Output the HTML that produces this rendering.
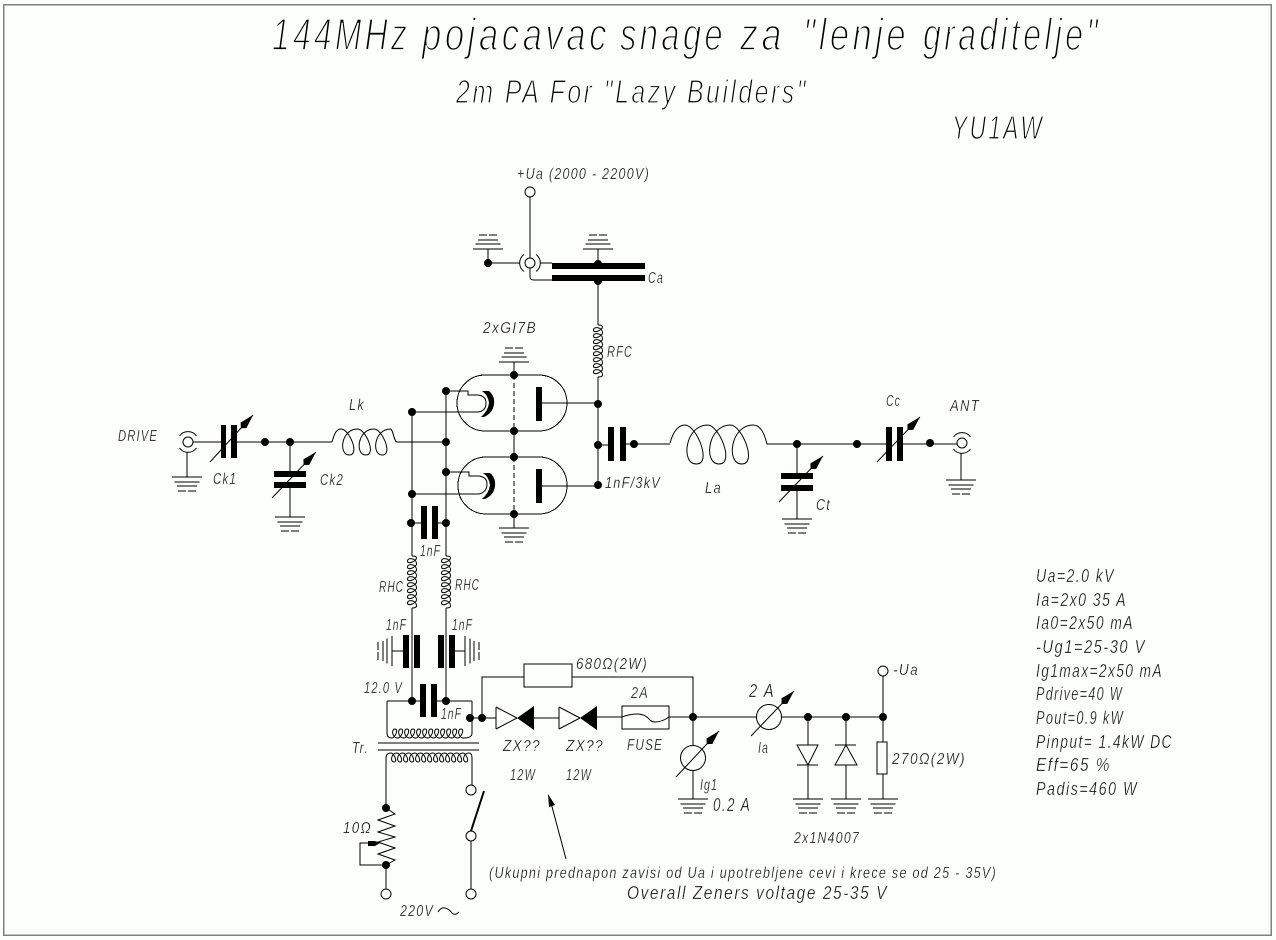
<!DOCTYPE html>
<html><head><meta charset="utf-8"><title>2m PA For Lazy Builders</title>
<style>
html,body{margin:0;padding:0;background:#fdfffd;width:1276px;height:940px;overflow:hidden}
svg{display:block;shape-rendering:crispEdges}
circle,path{shape-rendering:auto}
text{font-family:"Liberation Sans",sans-serif;font-style:italic;fill:#111;font-size:16px;letter-spacing:.1em}
.b{font-size:45px;stroke:#fdfffd;stroke-width:1.7px;paint-order:fill stroke;fill:#000}
.m{font-size:33px;stroke:#fdfffd;stroke-width:1.2px;paint-order:fill stroke;fill:#000}
.r{font-size:18px;stroke:#fdfffd;stroke-width:.3px;paint-order:fill stroke}
.s{font-size:16px;stroke:#fdfffd;stroke-width:.25px;paint-order:fill stroke}
</style></head><body>
<svg width="1276" height="940" viewBox="0 0 1276 940" xmlns="http://www.w3.org/2000/svg">
<defs>
<g id="gnd" fill="none" stroke="#000" stroke-width="1"><path d="M-15 0H15M-12.500 5H12.500M-10 9H10M-9 14H-1M1 14H9"/></g>
<g id="coil" fill="none" stroke="#000" stroke-width="1"><path d="M0 0Q0 -4.500 2 -4.500c3 0 7 9 3 9c-4 0 -3 -9 3 -9c3 0 7 9 3 9c-4 0 -3 -9 3 -9c3 0 7 9 3 9c-4 0 -3 -9 3 -9c3 0 7 9 3 9c-4 0 -3 -9 3 -9c3 0 7 9 3 9c-4 0 -3 -9 3 -9c3 0 7 9 3 9c-4 0 -3 -9 3 -9c3 0 7 9 3 9c-4 0 -3 -9 3 -9c3 0 7 9 3 9c-4 0 -3 -9 3 -9Q52 -4.500 52 0"/></g>
<marker id="ah" markerUnits="userSpaceOnUse" markerWidth="20" markerHeight="10" refX="18" refY="4" orient="auto"><path d="M0 4L4 0L18 4L4 8Z" fill="#000"/></marker>
</defs>

<rect x="3.500" y="4.500" width="1267.500" height="930.500" fill="none" stroke="#808080" stroke-width="1.500"/>

<!-- wiring -->
<g fill="none" stroke="#000" stroke-width="1" style="shape-rendering:crispEdges">
<!-- +Ua and Ca -->
<circle cx="530" cy="192" r="5"/>
<path d="M530 197V258"/>
<circle cx="530" cy="263" r="5"/>
<path d="M524 254.500A10.500 10.500 0 0 0 524 271.500M536 254.500A10.500 10.500 0 0 1 536 271.500"/>
<path d="M488 263H519.500M488 263V249M540.500 263H552M530 268V277Q530 280 534 280H552M598 264V249M598 281V325"/>
<!-- tubes -->
<rect x="457" y="375" width="110" height="56" rx="28" ry="28"/>
<rect x="458" y="457" width="109" height="57" rx="28" ry="28"/>
<path d="M514 431V457M514 514V528"/>
<path d="M514 375V431M514 457V514" stroke-dasharray="5 3"/>
<path d="M542 403H598M542 486H598M598 377V486"/>
<path d="M514 375V362"/>
<path d="M446 391H468V395H478Q486 396 486 403Q486 411 478 412H412"/>
<path d="M446 472H469V476H479Q487 477 487 484Q487 492 479 494H412"/>
<path d="M412 412V556M446 391V556M397 442H446M412 523H421M438 523H446"/>
<path d="M598 445H608M626 444H670"/>
<!-- RHC lower wires -->
<path d="M412 608V701M446 608V701M392 651H403M455 651H465"/>
<path d="M387 701H420M437 701H472M472 701V733M387 701V733"/>
<path d="M470 718H496M482 718V677H524M572 677H693V717"/>
<!-- transformer -->
<path d="M387 733Q387 738 392 738c3 0 7 -9 3 -9c-4 0 -3 9 3 9c3 0 7 -9 3 -9c-4 0 -3 9 3 9c3 0 7 -9 3 -9c-4 0 -3 9 3 9c3 0 7 -9 3 -9c-4 0 -3 9 3 9c3 0 7 -9 3 -9c-4 0 -3 9 3 9c3 0 7 -9 3 -9c-4 0 -3 9 3 9c3 0 7 -9 3 -9c-4 0 -3 9 3 9c3 0 7 -9 3 -9c-4 0 -3 9 3 9c3 0 7 -9 3 -9c-4 0 -3 9 3 9c3 0 7 -9 3 -9c-4 0 -3 9 3 9c3 0 7 -9 3 -9c-4 0 -3 9 3 9c3 0 7 -9 3 -9c-4 0 -3 9 3 9Q472 738 472 733"/>
<path d="M378 743H479M378 750H479" stroke-width="1"/>
<path d="M386 808V758Q386 753 391 753c3 0 7 9 3 9c-4 0 -3 -9 3 -9c3 0 7 9 3 9c-4 0 -3 -9 3 -9c3 0 7 9 3 9c-4 0 -3 -9 3 -9c3 0 7 9 3 9c-4 0 -3 -9 3 -9c3 0 7 9 3 9c-4 0 -3 -9 3 -9c3 0 7 9 3 9c-4 0 -3 -9 3 -9c3 0 7 9 3 9c-4 0 -3 -9 3 -9c3 0 7 9 3 9c-4 0 -3 -9 3 -9c3 0 7 9 3 9c-4 0 -3 -9 3 -9c3 0 7 9 3 9c-4 0 -3 -9 3 -9c3 0 7 9 3 9c-4 0 -3 -9 3 -9c3 0 7 9 3 9c-4 0 -3 -9 3 -9c3 0 7 9 3 9c-4 0 -3 -9 3 -9Q472 753 472 758V785"/>
<circle cx="471" cy="790" r="5"/><circle cx="471" cy="836" r="5"/><circle cx="471" cy="894" r="5"/>
<path d="M471 841V889"/>
<path d="M386 808L395 814L378 820L395 826L378 832L395 837L378 842L395 848L378 854L395 860L386 865V889"/>
<path d="M378 843H360V865H386"/>
<circle cx="386" cy="894" r="5"/>
<path d="M438 912Q441 907 445 908Q449 909 452 913Q455 916 459 912"/>
<!-- diode line & load -->
<path d="M597 717H622M669 717H756M782 717H883"/>
<rect x="622" y="706" width="47" height="23"/>
<path d="M622 717Q630 714 638 714Q645 714 650 720Q652 722 655 722Q662 722 669 717"/>
<path d="M496 707V729M496 707L517 718M496 729L517 718M534 718H559M559 707V729M559 707L580 718M559 729L580 718"/>
<rect x="524" y="664" width="48" height="23"/>
<circle cx="769" cy="717" r="12.500"/>
<circle cx="693" cy="758" r="12.500"/>
<path d="M693 717V746M693 771V799"/>
<circle cx="883" cy="671" r="5"/>
<path d="M883 676V742M883 774V799M808 717V745M808 765V799M846 717V745M846 765V799"/>
<rect x="877" y="742" width="10" height="32"/>
<path d="M797 745H818L808 765ZM797 765H818M835 745H856M846 745L835 765H857Z"/>
<!-- left input -->
<circle cx="188" cy="442" r="5"/>
<path d="M179.500 436A10.500 10.500 0 0 1 196.500 436M179.500 448A10.500 10.500 0 0 0 196.500 448"/>
<path d="M193 442H221M237 442H332M187 452V477M290 442V471M290 488V517"/>
<path d="M332 442C334 435 336 429 341 429c8.250 0 19.250 26 8.250 26c-11 0 -8.250 -26 8.250 -26c8.250 0 19.250 26 8.250 26c-11 0 -8.250 -26 8.250 -26c8.250 0 19.250 26 8.250 26c-11 0 -8.250 -26 8.250 -26C393 429 394 442 397 442"/>
<!-- output -->
<path d="M670 443C672 436 676 425 685 425c11.350 0 27.350 39 11.350 39c-16 0 -11.350 -39 11.350 -39c11.350 0 27.350 39 11.350 39c-16 0 -11.350 -39 11.350 -39c11.350 0 27.350 39 11.350 39c-16 0 -11.350 -39 11.350 -39C760 425 764 432 767 444H886M903 444H957"/>
<path d="M797 444V473M797 491V519M961 453V480"/>
<circle cx="962" cy="443" r="5"/>
<path d="M953.500 437A10.500 10.500 0 0 1 970.500 437M953.500 449A10.500 10.500 0 0 0 970.500 449"/>
<!-- arrows -->
<path d="M210 462L253 415" marker-end="url(#ah)"/>
<path d="M272 498L316 452" marker-end="url(#ah)"/>
<path d="M779 502L823 456" marker-end="url(#ah)"/>
<path d="M877 462L920 417" marker-end="url(#ah)"/>
<path d="M751 736L794 691" marker-end="url(#ah)"/>
<path d="M676 777L719 731" marker-end="url(#ah)"/>
<path d="M566 859L551 803"/>
</g>
<path d="M471 831L484 791" stroke="#000" stroke-width="2" fill="none"/>
<path d="M548 794L555 805L549 807Z" fill="#000"/>
<path d="M368 841H375L380 843L375 846H368Z" fill="#000"/>

<!-- filled parts -->
<g fill="#000">
<rect x="552" y="263" width="93" height="6"/><rect x="552" y="275" width="93" height="6"/>
<rect x="536" y="387" width="6" height="34"/><rect x="536" y="469" width="6" height="34"/>
<path d="M482 391H489Q495 396 494 404Q493 413 484 417H481Q488 411 489 403Q488 395 482 391Z"/>
<path d="M483 473H490Q496 478 495 486Q494 495 485 499H482Q489 493 490 485Q489 477 483 473Z"/>
<rect x="608" y="427" width="6" height="34"/><rect x="620" y="427" width="6" height="34"/>
<rect x="421" y="506" width="6" height="33"/><rect x="432" y="506" width="6" height="33"/>
<rect x="403" y="635" width="6" height="33"/><rect x="414" y="635" width="6" height="33"/>
<rect x="438" y="635" width="6" height="33"/><rect x="449" y="635" width="6" height="33"/>
<rect x="420" y="684" width="6" height="33"/><rect x="431" y="684" width="6" height="33"/>
<rect x="221" y="425" width="5" height="33"/><rect x="231" y="425" width="6" height="33"/>
<rect x="274" y="471" width="32" height="6"/><rect x="274" y="482" width="32" height="6"/>
<rect x="886" y="427" width="6" height="34"/><rect x="897" y="427" width="6" height="34"/>
<rect x="781" y="473" width="32" height="6"/><rect x="781" y="485" width="32" height="6"/>
<path d="M517 718L534 706V730ZM580 718L597 706V730Z"/>
<!-- dots -->
<circle cx="488" cy="263" r="4"/><circle cx="598" cy="264" r="4"/><circle cx="598" cy="281" r="4"/>
<circle cx="514" cy="375" r="4"/><circle cx="514" cy="431" r="4"/><circle cx="514" cy="457" r="4"/><circle cx="514" cy="514" r="4"/>
<circle cx="446" cy="391" r="4"/><circle cx="412" cy="412" r="4"/><circle cx="446" cy="442" r="4"/><circle cx="446" cy="472" r="4"/><circle cx="412" cy="494" r="4"/>
<circle cx="411" cy="523" r="4"/><circle cx="446" cy="523" r="4"/>
<circle cx="598" cy="404" r="4"/><circle cx="598" cy="445" r="4"/><circle cx="598" cy="485" r="4"/><circle cx="634" cy="444" r="4"/>
<circle cx="265" cy="442" r="4"/><circle cx="290" cy="442" r="4"/>
<circle cx="797" cy="444" r="4"/><circle cx="857" cy="444" r="4"/><circle cx="930" cy="443" r="4"/>
<circle cx="412" cy="701" r="4"/><circle cx="446" cy="701" r="4"/><circle cx="470" cy="718" r="4"/><circle cx="482" cy="718" r="4"/>
<circle cx="693" cy="717" r="4"/><circle cx="808" cy="717" r="4"/><circle cx="846" cy="717" r="4"/><circle cx="883" cy="717" r="4"/>
<circle cx="386" cy="808" r="4"/><circle cx="386" cy="865" r="4"/>
</g>

<!-- coils -->
<use href="#coil" transform="translate(598,325) rotate(90)"/>
<use href="#coil" transform="translate(412,556) rotate(90)"/>
<use href="#coil" transform="translate(446,556) rotate(90)"/>

<!-- grounds -->
<use href="#gnd" transform="translate(488,249) scale(1,-1)"/>
<use href="#gnd" transform="translate(598,249) scale(1,-1)"/>
<use href="#gnd" transform="translate(514,362) scale(1,-1)"/>
<use href="#gnd" transform="translate(514,528)"/>
<use href="#gnd" transform="translate(187,477)"/>
<use href="#gnd" transform="translate(290,517)"/>
<use href="#gnd" transform="translate(797,519)"/>
<use href="#gnd" transform="translate(961,480)"/>
<use href="#gnd" transform="translate(693,799)"/>
<use href="#gnd" transform="translate(808,799)"/>
<use href="#gnd" transform="translate(846,799)"/>
<use href="#gnd" transform="translate(883,799)"/>
<use href="#gnd" transform="translate(392,651) rotate(90)"/>
<use href="#gnd" transform="translate(465,651) rotate(-90)"/>

<!-- titles -->
<text class="b" x="272" y="50" textLength="138" lengthAdjust="spacingAndGlyphs">144MHz</text>
<text class="b" x="422" y="50" textLength="188" lengthAdjust="spacingAndGlyphs">pojacavac</text>
<text class="b" x="620" y="50" textLength="106" lengthAdjust="spacingAndGlyphs">snage</text>
<text class="b" x="740" y="50" textLength="45" lengthAdjust="spacingAndGlyphs">za</text>
<text class="b" x="803" y="50" textLength="106" lengthAdjust="spacingAndGlyphs">"lenje</text>
<text class="b" x="923" y="50" textLength="178" lengthAdjust="spacingAndGlyphs">graditelje"</text>
<text class="m" x="456" y="103" textLength="352" lengthAdjust="spacingAndGlyphs">2m PA For "Lazy Builders"</text>
<text class="m" x="952" y="139" textLength="92" lengthAdjust="spacingAndGlyphs">YU1AW</text>

<!-- labels -->
<text class="s" x="517" y="179" textLength="133" lengthAdjust="spacingAndGlyphs">+Ua (2000 - 2200V)</text>
<text class="s" x="648" y="283" textLength="16" lengthAdjust="spacingAndGlyphs">Ca</text>
<text class="s" x="483" y="333" textLength="54" lengthAdjust="spacingAndGlyphs">2xGI7B</text>
<text class="s" x="607" y="357" textLength="26" lengthAdjust="spacingAndGlyphs">RFC</text>
<text class="s" x="118" y="441" textLength="40" lengthAdjust="spacingAndGlyphs">DRIVE</text>
<text class="s" x="213" y="484" textLength="24" lengthAdjust="spacingAndGlyphs">Ck1</text>
<text class="s" x="320" y="485" textLength="24" lengthAdjust="spacingAndGlyphs">Ck2</text>
<text class="s" x="349" y="410" textLength="16" lengthAdjust="spacingAndGlyphs">Lk</text>
<text class="s" x="605" y="488" textLength="56" lengthAdjust="spacingAndGlyphs">1nF/3kV</text>
<text class="s" x="705" y="493" textLength="17" lengthAdjust="spacingAndGlyphs">La</text>
<text class="s" x="816" y="510" textLength="15" lengthAdjust="spacingAndGlyphs">Ct</text>
<text class="s" x="886" y="406" textLength="15" lengthAdjust="spacingAndGlyphs">Cc</text>
<text class="s" x="950" y="411" textLength="30" lengthAdjust="spacingAndGlyphs">ANT</text>
<text class="s" x="420" y="556" textLength="21" lengthAdjust="spacingAndGlyphs">1nF</text>
<text class="s" x="379" y="592" textLength="25" lengthAdjust="spacingAndGlyphs">RHC</text>
<text class="s" x="455" y="590" textLength="25" lengthAdjust="spacingAndGlyphs">RHC</text>
<text class="s" x="386" y="630" textLength="21" lengthAdjust="spacingAndGlyphs">1nF</text>
<text class="s" x="452" y="630" textLength="21" lengthAdjust="spacingAndGlyphs">1nF</text>
<text class="s" x="364" y="693" textLength="39" lengthAdjust="spacingAndGlyphs">12.0 V</text>
<text class="s" x="441" y="719" textLength="21" lengthAdjust="spacingAndGlyphs">1nF</text>
<text class="s" x="352" y="753" textLength="17" lengthAdjust="spacingAndGlyphs">Tr.</text>
<text class="s" x="343" y="833" textLength="29" lengthAdjust="spacingAndGlyphs">10Ω</text>
<text class="s" x="400" y="916" textLength="34" lengthAdjust="spacingAndGlyphs">220V</text>
<text class="s" x="576" y="669" textLength="72" lengthAdjust="spacingAndGlyphs">680Ω(2W)</text>
<text class="s" x="631" y="698" textLength="18" lengthAdjust="spacingAndGlyphs">2A</text>
<text class="s" x="627" y="750" textLength="36" lengthAdjust="spacingAndGlyphs">FUSE</text>
<text class="s" x="503" y="751" textLength="38" lengthAdjust="spacingAndGlyphs">ZX??</text>
<text class="s" x="566" y="751" textLength="38" lengthAdjust="spacingAndGlyphs">ZX??</text>
<text class="s" x="510" y="780" textLength="26" lengthAdjust="spacingAndGlyphs">12W</text>
<text class="s" x="566" y="780" textLength="26" lengthAdjust="spacingAndGlyphs">12W</text>
<text class="s" x="700" y="790" textLength="18" lengthAdjust="spacingAndGlyphs">Ig1</text>
<text class="r" x="713" y="811" textLength="38" lengthAdjust="spacingAndGlyphs">0.2 A</text>
<text class="r" x="749" y="697" textLength="26" lengthAdjust="spacingAndGlyphs">2 A</text>
<text class="s" x="758" y="753" textLength="11" lengthAdjust="spacingAndGlyphs">Ia</text>
<text class="s" x="892" y="764" textLength="74" lengthAdjust="spacingAndGlyphs">270Ω(2W)</text>
<text class="s" x="794" y="843" textLength="66" lengthAdjust="spacingAndGlyphs">2x1N4007</text>
<text class="s" x="893" y="675" textLength="26" lengthAdjust="spacingAndGlyphs">-Ua</text>
<text class="s" x="489" y="878" textLength="508" lengthAdjust="spacingAndGlyphs">(Ukupni prednapon zavisi od Ua i upotrebljene cevi i krece se od 25 - 35V)</text>
<text class="r" x="627" y="899" textLength="261" lengthAdjust="spacingAndGlyphs">Overall  Zeners voltage 25-35 V</text>

<!-- specs -->
<text class="r" x="1036" y="582" textLength="79" lengthAdjust="spacingAndGlyphs">Ua=2.0 kV</text>
<text class="r" x="1036" y="606" textLength="91" lengthAdjust="spacingAndGlyphs">Ia=2x0 35 A</text>
<text class="r" x="1036" y="629" textLength="98" lengthAdjust="spacingAndGlyphs">Ia0=2x50 mA</text>
<text class="r" x="1036" y="653" textLength="110" lengthAdjust="spacingAndGlyphs">-Ug1=25-30 V</text>
<text class="r" x="1036" y="677" textLength="127" lengthAdjust="spacingAndGlyphs">Ig1max=2x50 mA</text>
<text class="r" x="1036" y="700" textLength="87" lengthAdjust="spacingAndGlyphs">Pdrive=40 W</text>
<text class="r" x="1036" y="724" textLength="88" lengthAdjust="spacingAndGlyphs">Pout=0.9 kW</text>
<text class="r" x="1036" y="748" textLength="137" lengthAdjust="spacingAndGlyphs">Pinput= 1.4kW DC</text>
<text class="r" x="1036" y="771" textLength="75" lengthAdjust="spacingAndGlyphs">Eff=65 %</text>
<text class="r" x="1036" y="795" textLength="102" lengthAdjust="spacingAndGlyphs">Padis=460 W</text>
</svg>
</body></html>
